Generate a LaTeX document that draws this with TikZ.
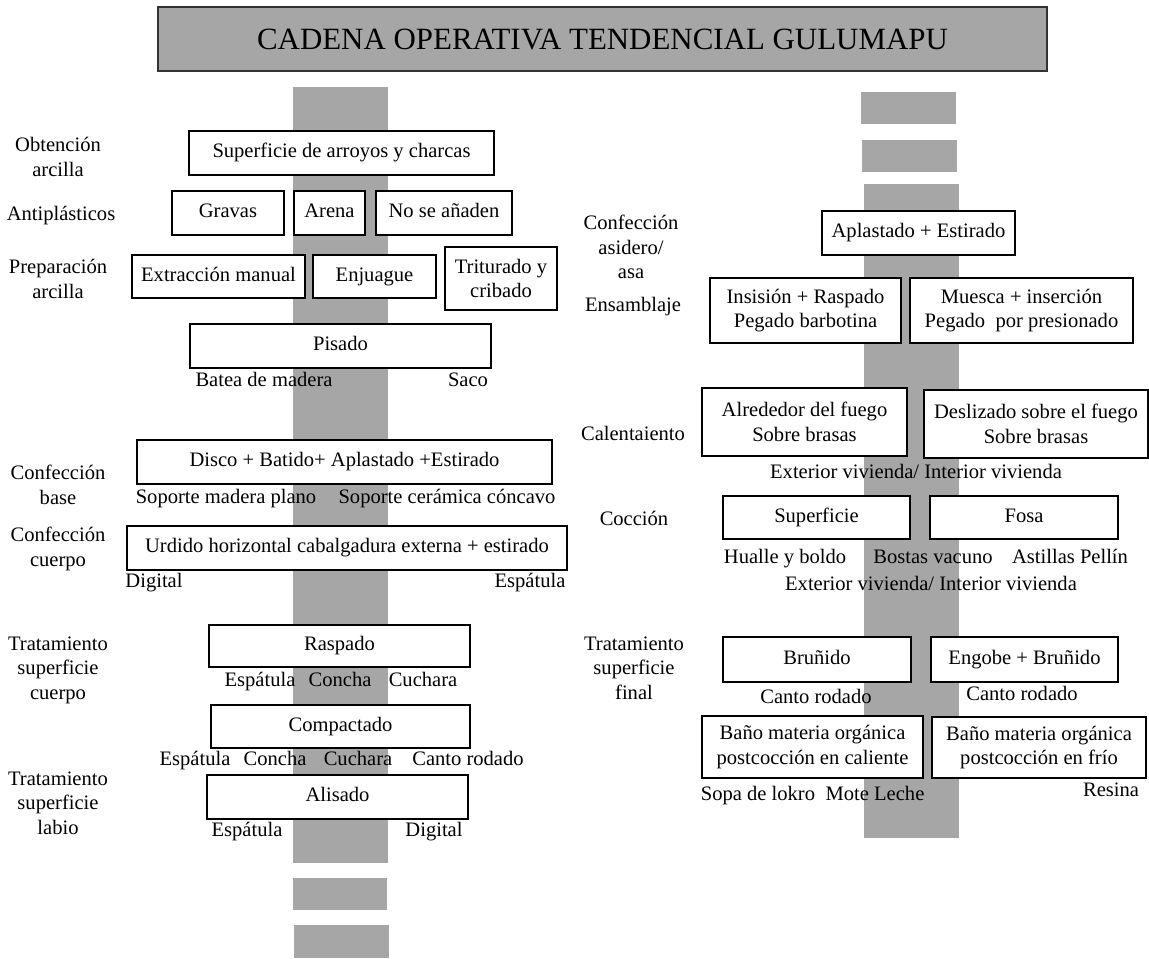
\documentclass[tikz,border=0pt]{standalone}
\usepackage{fontspec}
\setmainfont{Liberation Serif}
\newcommand\cuerpo{\fontsize{11.7}{14}\selectfont}
\newcommand\titular{\fontsize{17.6}{20}\selectfont}
\begin{document}
\begin{tikzpicture}[x=0.02cm, y=-0.02cm,
    tam/.style 2 args={minimum width=#1*0.02cm, minimum height=#2*0.02cm},
    cajados/.style={draw, fill=white, line width=0.7pt, inner sep=0pt, align=center, font=\cuerpo},
    caja/.style={cajados, text height=1.5ex, text depth=.35ex},
    etapa/.style={align=center, font=\cuerpo, inner sep=0pt},
    nota/.style={font=\cuerpo, inner sep=0pt, text height=1.5ex, text depth=.35ex},
    barra/.style={fill=gray!70}]
  \useasboundingbox (0,0) rectangle (1149,958);
  \node [draw=gray!40!black, fill=gray!70, line width=1.2pt, inner sep=0pt, font=\titular,
    tam={889}{64}] (titulo) at (602.5,39) {CADENA OPERATIVA TENDENCIAL GULUMAPU};
  \fill [barra] (293,87) rectangle (388,863);
  \fill [barra] (293,878) rectangle (387,910);
  \fill [barra] (294,925) rectangle (389,958);
  \fill [barra] (861,92) rectangle (956,124);
  \fill [barra] (862,140) rectangle (957,172);
  \fill [barra] (864,184) rectangle (959,838);

  \node [etapa] (obtencion) at (58,157) {Obtención\\arcilla};
  \node [etapa] (antiplasticos) at (61,216) {Antiplásticos};
  \node [etapa] (preparacion) at (58,279) {Preparación\\arcilla};
  \node [etapa] (base) at (58,485) {Confección\\base};
  \node [etapa] (cuerpo) at (58,549) {Confección\\cuerpo};
  \node [etapa] (tratcuerpo) at (58,670) {Tratamiento\\superficie\\cuerpo};
  \node [etapa] (tratlabio) at (58,803) {Tratamiento\\superficie\\labio};

  \node [caja, tam={305}{44}] (arroyos) at (341.5,153) {Superficie de arroyos y charcas};
  \node [caja, tam={112}{44}] (gravas) at (228,213) {Gravas};
  \node [caja, tam={71}{44}] (arena) at (329.5,213) {Arena};
  \node [caja, tam={136}{44}] (noanaden) at (444,213) {No se añaden};
  \node [caja, tam={173}{43}] (extraccion) at (218.5,276.5) {Extracción manual};
  \node [caja, tam={123}{43}] (enjuague) at (374.5,276.5) {Enjuague};
  \node [cajados, tam={112}{63}] (triturado) at (501,278.5) {Triturado y\\cribado};
  \node [caja, tam={301}{44}] (pisado) at (340.5,346) {Pisado};
  \node [nota] (batea) at (264,382) {Batea de madera};
  \node [nota] (saco) at (468,382) {Saco};
  \node [caja, tam={415}{44}] (disco) at (344.5,462) {Disco + Batido+ Aplastado +Estirado};
  \node [nota] (soportemadera) at (226,499) {Soporte madera plano};
  \node [nota] (soporteceramica) at (447,499) {Soporte cerámica cóncavo};
  \node [caja, tam={440}{44}] (urdido) at (347,548) {Urdido horizontal cabalgadura externa + estirado};
  \node [nota] (digitala) at (154,583) {Digital};
  \node [nota] (espatulaa) at (530,583) {Espátula};
  \node [caja, tam={261}{42}] (raspado) at (339.5,646) {Raspado};
  \node [nota] (espatulab) at (260,682) {Espátula};
  \node [nota] (conchab) at (340,682) {Concha};
  \node [nota] (cucharab) at (423,682) {Cuchara};
  \node [caja, tam={259}{43}] (compactado) at (340.5,726.5) {Compactado};
  \node [nota] (espatulac) at (195,761) {Espátula};
  \node [nota] (conchac) at (275,761) {Concha};
  \node [nota] (cucharac) at (358,761) {Cuchara};
  \node [nota] (cantoc) at (468,761) {Canto rodado};
  \node [caja, tam={261}{44}] (alisado) at (337.5,797) {Alisado};
  \node [nota] (espatulad) at (247,832) {Espátula};
  \node [nota] (digitald) at (434,832) {Digital};

  \node [etapa] (asidero) at (631,247) {Confección\\asidero/\\asa};
  \node [etapa] (ensamblaje) at (633,307) {Ensamblaje};
  \node [etapa] (calentamiento) at (633,433) {Calentaiento};
  \node [etapa] (coccion) at (634,518) {Cocción};
  \node [etapa] (tratfinal) at (634,668) {Tratamiento\\superficie\\final};

  \node [caja, tam={193}{44}] (aplastado) at (918.5,233) {Aplastado + Estirado};
  \node [cajados, tam={191}{65}] (insision) at (805.5,310.5) {Insisión + Raspado\\Pegado barbotina};
  \node [cajados, tam={223}{65}] (muesca) at (1021.5,310.5) {Muesca + inserción\\Pegado\ \ por presionado};
  \node [cajados, tam={205}{68}] (alrededor) at (804.5,422) {Alrededor del fuego\\Sobre brasas};
  \node [cajados, tam={224}{68}] (deslizado) at (1036,424) {Deslizado sobre el fuego\\Sobre brasas};
  \node [nota] (viviendaa) at (916,474) {Exterior vivienda/ Interior vivienda};
  \node [caja, tam={187}{43}] (superficie) at (816.5,517.5) {Superficie};
  \node [caja, tam={188}{43}] (fosa) at (1024,517.5) {Fosa};
  \node [nota] (hualle) at (785,559) {Hualle y boldo};
  \node [nota] (bostas) at (933,559) {Bostas vacuno};
  \node [nota] (astillas) at (1070,559) {Astillas Pellín};
  \node [nota] (viviendab) at (931,586) {Exterior vivienda/ Interior vivienda};
  \node [caja, tam={188}{45}] (brunido) at (817,659.5) {Bruñido};
  \node [caja, tam={187}{45}] (engobe) at (1024.5,659.5) {Engobe + Bruñido};
  \node [nota] (cantoe) at (816,699) {Canto rodado};
  \node [nota] (cantof) at (1022,696) {Canto rodado};
  \node [cajados, tam={221}{62}] (banocaliente) at (812.5,747) {Baño materia orgánica\\postcocción en caliente};
  \node [cajados, tam={214}{61}] (banofrio) at (1039,747.5) {Baño materia orgánica\\postcocción en frío};
  \node [nota] (sopa) at (758,796) {Sopa de lokro};
  \node [nota] (mote) at (875,796) {Mote Leche};
  \node [nota] (resina) at (1111,792) {Resina};
\end{tikzpicture}
\end{document}
